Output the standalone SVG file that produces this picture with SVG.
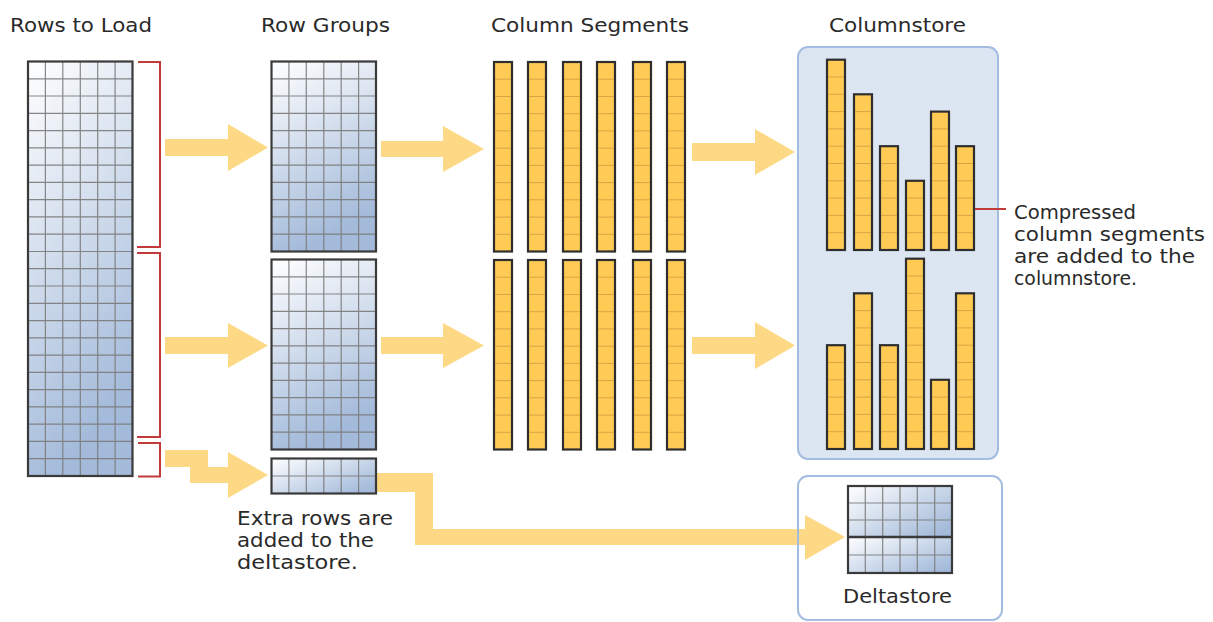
<svg xmlns="http://www.w3.org/2000/svg" xmlns:xlink="http://www.w3.org/1999/xlink" width="1213" height="622" viewBox="0 0 1213 622">
<style>
.lbl{font-family:"DejaVu Sans",Verdana,sans-serif;font-size:20px;fill:#2a2a2a}
.tbl{stroke:#3a3a3a;stroke-width:2.2}
.grid{stroke:#7a7a7a;stroke-width:1.2;fill:none;opacity:.9}
.seg{fill:#FFCB55;stroke:#2e2e2e;stroke-width:2.2}
.segln{stroke:#C99A3C;stroke-width:1;fill:none;opacity:.75}
.arrow{fill:#FDD985}
.red{fill:none;stroke:#C23B3B;stroke-width:2}
.box{stroke:#A3BDE0;stroke-width:2}
</style>
<defs>
<linearGradient id="gTall" x1="0" y1="0" x2="0.3" y2="1"><stop offset="0" stop-color="#FFFFFF"/><stop offset="1" stop-color="#A3BADA"/></linearGradient>
<linearGradient id="gWide" x1="0" y1="0" x2="1" y2="0.8"><stop offset="0" stop-color="#FFFFFF"/><stop offset="1" stop-color="#A3BADA"/></linearGradient>
<g id="rg">
<rect x="0" y="0" width="104.5" height="190" fill="url(#gTall)"/>
<path class="grid" d="M17.4 0V190M34.8 0V190M52.3 0V190M69.7 0V190M87.1 0V190M0 17.3H104.5M0 34.5H104.5M0 51.8H104.5M0 69.1H104.5M0 86.4H104.5M0 103.6H104.5M0 120.9H104.5M0 138.2H104.5M0 155.4H104.5M0 172.7H104.5"/>
<rect class="tbl" x="0" y="0" width="104.5" height="190" fill="none"/>
</g>
<clipPath id="segClip">
<rect x="495" y="63" width="16" height="187.5"/><rect x="529" y="63" width="16" height="187.5"/><rect x="564" y="63" width="16" height="187.5"/><rect x="598" y="63" width="16" height="187.5"/><rect x="634" y="63" width="16" height="187.5"/><rect x="668" y="63" width="16" height="187.5"/>
<rect x="495" y="261" width="16" height="187.5"/><rect x="529" y="261" width="16" height="187.5"/><rect x="564" y="261" width="16" height="187.5"/><rect x="598" y="261" width="16" height="187.5"/><rect x="634" y="261" width="16" height="187.5"/><rect x="668" y="261" width="16" height="187.5"/>
</clipPath>
<clipPath id="csClip">
<rect x="828" y="60.7" width="16" height="188.3"/><rect x="855" y="95.3" width="16" height="153.7"/><rect x="881" y="147.2" width="16" height="101.8"/><rect x="907" y="181.8" width="16" height="67.2"/><rect x="932" y="112.6" width="16" height="136.4"/><rect x="957" y="147.2" width="16" height="101.8"/>
<rect x="828" y="346.2" width="16" height="101.8"/><rect x="855" y="294.3" width="16" height="153.7"/><rect x="881" y="346.2" width="16" height="101.8"/><rect x="907" y="259.7" width="16" height="188.3"/><rect x="932" y="380.8" width="16" height="67.2"/><rect x="957" y="294.3" width="16" height="153.7"/>
</clipPath>
</defs>

<rect x="0" y="0" width="1213" height="622" fill="#FFFFFF"/>

<g id="titles">
<text class="lbl" x="10" y="32" textLength="142" lengthAdjust="spacingAndGlyphs">Rows to Load</text>
<text class="lbl" x="261" y="32" textLength="129" lengthAdjust="spacingAndGlyphs">Row Groups</text>
<text class="lbl" x="491" y="32" textLength="198" lengthAdjust="spacingAndGlyphs">Column Segments</text>
<text class="lbl" x="829" y="32" textLength="137" lengthAdjust="spacingAndGlyphs">Columnstore</text>
</g>

<g id="columnstore-box">
<rect class="box" x="798" y="47" width="200" height="412" rx="10" fill="#DCE6F2"/>
</g>

<g id="connectors">
<polygon class="arrow" points="165,139 228,139 228,124 268,147.5 228,171 228,156 165,156"/>
<polygon class="arrow" points="381,141 443,141 443,126 484,149 443,172 443,157 381,157"/>
<polygon class="arrow" points="692,143 755,143 755,129 795,152 755,175 755,161 692,161"/>
<polygon class="arrow" points="165,337 228,337 228,323 268,345.5 228,368 228,354 165,354"/>
<polygon class="arrow" points="381,337 443,337 443,323 484,345.5 443,368 443,354 381,354"/>
<polygon class="arrow" points="692,337 755,337 755,322 795,345.5 755,369 755,354 692,354"/>
<polygon class="arrow" points="165,450 208,450 208,467 228,467 228,452 268,475 228,498 228,483 190,483 190,467 165,467"/>
<polygon class="arrow" points="376,473 433,473 433,529 805,529 805,515 845,537 805,560 805,545 415,545 415,492 376,492"/>
<path class="red" d="M975 209H1006"/>
</g>

<g id="brackets">
<path class="red" d="M138 62H160V247H137"/>
<path class="red" d="M137 253H160V437H137"/>
<path class="red" d="M138 443H160V476.5H138"/>
</g>

<g id="rows-to-load">
<rect x="28" y="61.5" width="104.5" height="414.5" fill="url(#gTall)"/>
<path class="grid" d="M45.4 61.5V476M62.8 61.5V476M80.3 61.5V476M97.7 61.5V476M115.1 61.5V476M28 78.8H132.5M28 96H132.5M28 113.3H132.5M28 130.6H132.5M28 147.9H132.5M28 165.1H132.5M28 182.4H132.5M28 199.7H132.5M28 216.9H132.5M28 234.2H132.5M28 251.5H132.5M28 268.7H132.5M28 286H132.5M28 303.3H132.5M28 320.6H132.5M28 337.8H132.5M28 355.1H132.5M28 372.4H132.5M28 389.6H132.5M28 406.9H132.5M28 424.2H132.5M28 441.4H132.5M28 458.7H132.5"/>
<rect class="tbl" x="28" y="61.5" width="104.5" height="414.5" fill="none"/>
</g>

<g id="row-group-1"><use xlink:href="#rg" href="#rg" transform="translate(271.5,61.5)"/></g>
<g id="row-group-2"><use xlink:href="#rg" href="#rg" transform="translate(271.5,259.5)"/></g>
<g id="row-group-extra">
<rect x="271.5" y="458.5" width="104.5" height="35" fill="url(#gWide)"/>
<path class="grid" d="M288.9 458.5V493.5M306.3 458.5V493.5M323.8 458.5V493.5M341.2 458.5V493.5M358.6 458.5V493.5M271.5 476H376"/>
<rect class="tbl" x="271.5" y="458.5" width="104.5" height="35" fill="none"/>
</g>

<g id="column-segments">
<rect class="seg" x="494" y="62" width="18" height="189.5"/><rect class="seg" x="528" y="62" width="18" height="189.5"/><rect class="seg" x="563" y="62" width="18" height="189.5"/><rect class="seg" x="597" y="62" width="18" height="189.5"/><rect class="seg" x="633" y="62" width="18" height="189.5"/><rect class="seg" x="667" y="62" width="18" height="189.5"/>
<rect class="seg" x="494" y="260" width="18" height="189.5"/><rect class="seg" x="528" y="260" width="18" height="189.5"/><rect class="seg" x="563" y="260" width="18" height="189.5"/><rect class="seg" x="597" y="260" width="18" height="189.5"/><rect class="seg" x="633" y="260" width="18" height="189.5"/><rect class="seg" x="667" y="260" width="18" height="189.5"/>
<path class="segln" clip-path="url(#segClip)" d="M494 79.2H685M494 96.5H685M494 113.7H685M494 130.9H685M494 148.2H685M494 165.4H685M494 182.6H685M494 199.8H685M494 217.1H685M494 234.3H685M494 277.2H685M494 294.5H685M494 311.7H685M494 328.9H685M494 346.2H685M494 363.4H685M494 380.6H685M494 397.8H685M494 415.1H685M494 432.3H685"/>
</g>

<g id="columnstore">
<rect class="seg" x="827" y="59.7" width="18" height="190.3"/><rect class="seg" x="854" y="94.3" width="18" height="155.7"/><rect class="seg" x="880" y="146.2" width="18" height="103.8"/><rect class="seg" x="906" y="180.8" width="18" height="69.2"/><rect class="seg" x="931" y="111.6" width="18" height="138.4"/><rect class="seg" x="956" y="146.2" width="18" height="103.8"/>
<rect class="seg" x="827" y="345.2" width="18" height="103.8"/><rect class="seg" x="854" y="293.3" width="18" height="155.7"/><rect class="seg" x="880" y="345.2" width="18" height="103.8"/><rect class="seg" x="906" y="258.7" width="18" height="190.3"/><rect class="seg" x="931" y="379.8" width="18" height="69.2"/><rect class="seg" x="956" y="293.3" width="18" height="155.7"/>
<path class="segln" clip-path="url(#csClip)" d="M827 232.7H974M827 215.4H974M827 198.1H974M827 180.8H974M827 163.5H974M827 146.2H974M827 128.9H974M827 111.6H974M827 94.3H974M827 77H974M827 431.7H974M827 414.4H974M827 397.1H974M827 379.8H974M827 362.5H974M827 345.2H974M827 327.9H974M827 310.6H974M827 293.3H974M827 276H974"/>
</g>

<g id="deltastore">
<rect class="box" x="798" y="476" width="204" height="144" rx="10" fill="none"/>
<rect x="848" y="486" width="104" height="51" fill="url(#gWide)"/>
<rect x="848" y="537" width="104" height="36" fill="url(#gWide)"/>
<path class="grid" d="M865.3 486V573M882.7 486V573M900 486V573M917.3 486V573M934.7 486V573M848 503H952M848 520H952M848 555H952"/>
<rect class="tbl" x="848" y="486" width="104" height="87" fill="none"/>
<path d="M848 537H952" stroke="#3a3a3a" stroke-width="2.5"/>
<text class="lbl" x="843" y="603" textLength="109" lengthAdjust="spacingAndGlyphs">Deltastore</text>
</g>

<g id="note-extra-rows">
<text class="lbl" x="237" y="525" textLength="156" lengthAdjust="spacingAndGlyphs">Extra rows are</text>
<text class="lbl" x="237" y="547" textLength="137" lengthAdjust="spacingAndGlyphs">added to the</text>
<text class="lbl" x="237" y="569" textLength="121" lengthAdjust="spacingAndGlyphs">deltastore.</text>
</g>

<g id="note-compressed">
<text class="lbl" x="1014" y="219" textLength="122" lengthAdjust="spacingAndGlyphs">Compressed</text>
<text class="lbl" x="1014" y="241" textLength="191" lengthAdjust="spacingAndGlyphs">column segments</text>
<text class="lbl" x="1014" y="263" textLength="181" lengthAdjust="spacingAndGlyphs">are added to the</text>
<text class="lbl" x="1014" y="285" textLength="123" lengthAdjust="spacingAndGlyphs">columnstore.</text>
</g>
</svg>
